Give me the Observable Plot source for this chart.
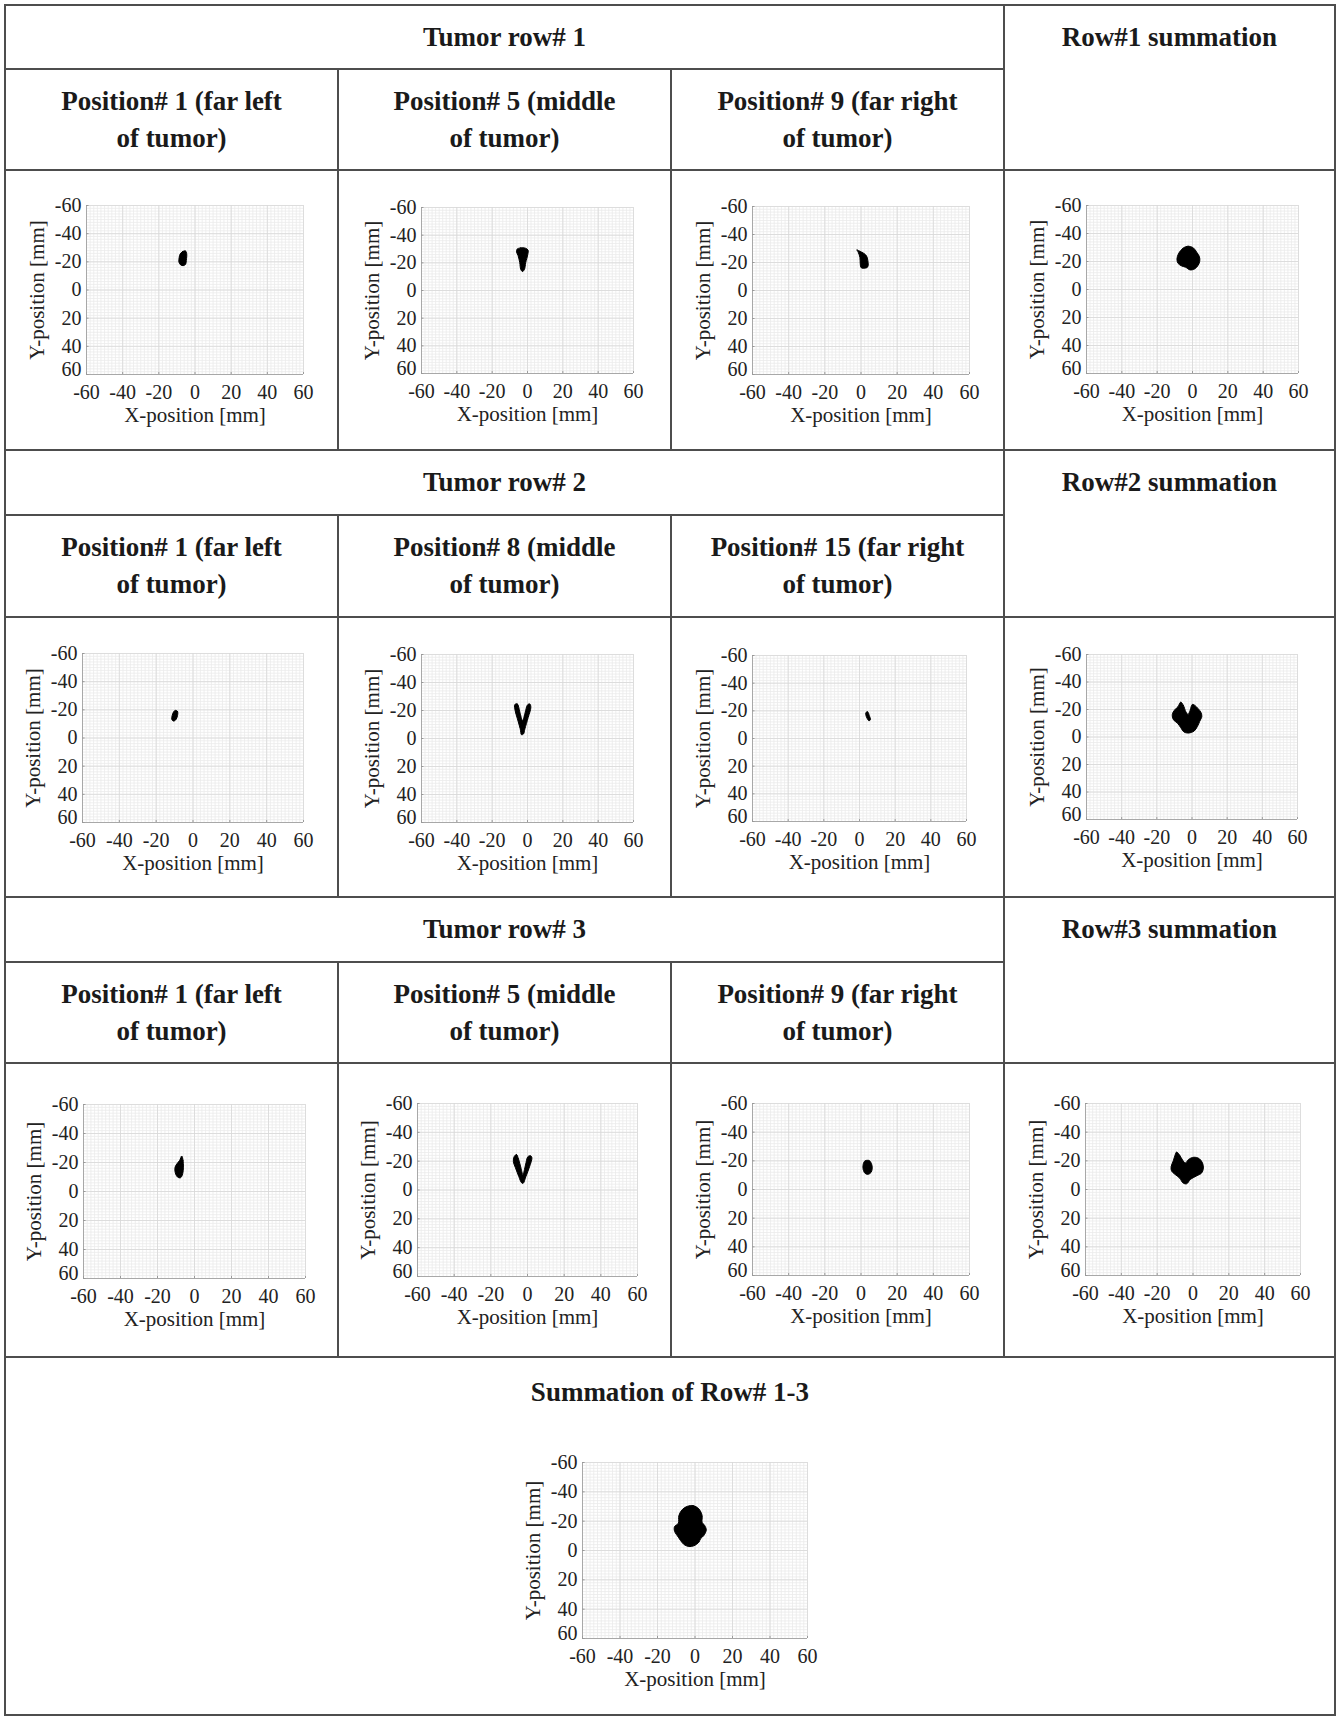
<!DOCTYPE html>
<html>
<head>
<meta charset="utf-8">
<script src="https://cdn.jsdelivr.net/npm/d3@7"></script>
<script src="https://cdn.jsdelivr.net/npm/@observablehq/plot@0.6"></script>
<style>
  html, body { margin: 0; padding: 0; background: #fff; }
  #figure {
    position: relative; width: 1338px; height: 1718px; overflow: hidden;
    font-family: "Liberation Serif", "Times New Roman", serif; color: #1a1a1a;
  }
  .rule { position: absolute; background: #4d4d4d; }
  .cell {
    position: absolute; display: flex; align-items: center; justify-content: center;
    text-align: center; font-weight: bold; font-size: 27px; line-height: 37px;
  }
  .panel { position: absolute; }
</style>
</head>
<body>
<div id="figure"></div>
<script>
// ---- Header texts ----
const blockTitles = ["Tumor row# 1", "Tumor row# 2", "Tumor row# 3"];
const summationTitles = ["Row#1 summation", "Row#2 summation", "Row#3 summation"];
const positionTitles = [
  [["Position# 1 (far left", "of tumor)"], ["Position# 5 (middle", "of tumor)"], ["Position# 9 (far right", "of tumor)"]],
  [["Position# 1 (far left", "of tumor)"], ["Position# 8 (middle", "of tumor)"], ["Position# 15 (far right", "of tumor)"]],
  [["Position# 1 (far left", "of tumor)"], ["Position# 5 (middle", "of tumor)"], ["Position# 9 (far right", "of tumor)"]]
];
const totalTitle = "Summation of Row# 1-3";

// ---- Axis ticks (mm) ----
const axisTicks = [-60, -40, -20, 0, 20, 40, 60];
const xLabel = "X-position [mm]";
const yLabel = "Y-position [mm]";

// ---- Tumor cross-section outlines, [x mm, y mm] ----
const row1Pos1 = [[-8.3,-25.3],[-7.0,-27.2],[-5.2,-27.7],[-4.6,-25.8],[-4.8,-21.1],[-5.2,-18.2],[-6.5,-17.3],[-7.9,-17.8],[-8.9,-19.9],[-8.7,-23.4]];
const row1Pos5 = [[-5.9,-29.9],[-4.0,-30.8],[-1.2,-30.6],[0.3,-29.2],[0.2,-26.3],[-1.0,-20.2],[-1.7,-15.4],[-2.8,-13.7],[-3.8,-15.2],[-4.4,-20.2],[-5.3,-25.1],[-6.2,-27.9]];
const row1Pos9 = [[-2.3,-29.1],[-1.0,-28.2],[1.6,-26.5],[3.0,-24.8],[3.8,-21.3],[3.8,-17.0],[2.5,-16.0],[0.1,-16.3],[-0.4,-18.9],[-0.6,-23.6],[-1.5,-27.2]];
const row1Sum = [[-5.2,-29.7],[-2.5,-30.9],[0.5,-29.7],[2.4,-26.6],[3.9,-23.5],[4.1,-20.2],[3.1,-17.1],[1.2,-14.7],[-1.4,-14.0],[-3.9,-15.9],[-6.1,-16.8],[-8.2,-18.7],[-8.8,-21.8],[-8.0,-25.4],[-6.7,-27.8]];

const row2Pos1 = [[-9.7,-19.6],[-8.4,-18.9],[-8.4,-16.0],[-9.3,-13.0],[-10.6,-12.0],[-11.5,-13.2],[-11.3,-16.0],[-10.6,-18.4]];
const row2Pos8 = [[-7.2,-24.2],[-5.7,-24.7],[-4.3,-18.7],[-2.8,-12.8],[-1.3,-18.7],[0.0,-24.0],[1.3,-24.7],[1.9,-22.3],[0.4,-15.1],[-1.5,-6.8],[-2.3,-3.2],[-3.4,-2.7],[-4.1,-6.8],[-5.7,-14.0],[-7.0,-19.9]];
const row2Pos15 = [[3.6,-18.8],[4.6,-19.3],[5.5,-16.6],[6.1,-13.5],[5.3,-12.8],[4.4,-14.2],[3.5,-17.3]];
const row2Sum = [[-6.4,-25.4],[-4.9,-23.0],[-3.4,-18.1],[-2.2,-16.4],[-1.1,-19.3],[0.2,-23.7],[1.6,-23.0],[3.5,-20.6],[5.0,-18.1],[5.6,-15.0],[4.4,-11.4],[3.1,-7.7],[1.2,-4.3],[-1.7,-2.9],[-4.5,-3.6],[-6.4,-6.8],[-8.3,-10.1],[-10.6,-12.6],[-11.2,-16.4],[-9.8,-19.8],[-7.9,-22.2]];

const row3Pos1 = [[-6.9,-24.5],[-6.2,-21.5],[-6.0,-16.8],[-6.4,-12.2],[-7.5,-9.5],[-9.1,-9.9],[-10.4,-12.9],[-10.5,-16.8],[-9.5,-19.1],[-8.0,-21.5]];
const row3Pos5 = [[-7.3,-23.1],[-6.0,-24.7],[-4.9,-21.5],[-3.5,-15.0],[-2.5,-10.8],[-1.1,-17.3],[0.2,-23.1],[1.7,-23.8],[2.4,-22.4],[1.1,-16.1],[-0.9,-9.2],[-2.4,-4.6],[-3.3,-5.1],[-4.7,-9.2],[-6.6,-15.5],[-7.7,-19.6]];
const row3Pos9 = [[2.2,-20.0],[4.5,-20.2],[5.8,-18.0],[6.2,-15.0],[5.6,-12.0],[4.0,-10.6],[2.3,-11.2],[1.2,-14.0],[1.2,-17.5]];
const row3Sum = [[-9.2,-26.1],[-7.5,-24.0],[-5.8,-20.5],[-4.3,-18.5],[-2.5,-21.0],[0.5,-22.5],[3.5,-21.5],[5.3,-18.5],[5.8,-15.0],[4.8,-11.5],[2.0,-9.5],[-1.5,-7.0],[-3.5,-4.0],[-5.5,-4.5],[-7.5,-8.0],[-10.0,-10.5],[-12.0,-13.0],[-12.2,-16.0],[-11.0,-20.0],[-10.0,-24.0]];

const totalSum = [[-4.1,-30.1],[-1.0,-30.6],[2.1,-28.3],[3.8,-23.8],[3.8,-19.2],[5.2,-17.0],[6.0,-14.0],[4.7,-10.2],[2.9,-7.9],[2.1,-5.7],[-0.6,-3.2],[-3.3,-2.7],[-5.9,-4.1],[-7.7,-6.8],[-8.9,-9.1],[-10.9,-13.1],[-10.9,-16.3],[-8.9,-18.6],[-8.6,-23.8],[-6.8,-27.9]];

// ---- Page layout (px) ----
const colX = [5, 338, 671, 1004, 1335];
const blocks = [
  {top: 5, mid: 69, head: 170, bottom: 450},
  {top: 450, mid: 515, head: 617, bottom: 897},
  {top: 897, mid: 962, head: 1063, bottom: 1357}
];
const figBottom = 1715;

// plot-area boxes [left, top, width, height] for each panel
const panelBoxes = [
  [[86, 205, 217, 169], [421, 207, 212, 166], [752, 206, 217, 168], [1086, 205, 212, 168]],
  [[82, 653, 221, 169], [421, 654, 212, 168], [752, 655, 214, 166], [1086, 654, 211, 165]],
  [[83, 1104, 222, 174], [417, 1103, 220, 173], [752, 1103, 217, 172], [1085, 1103, 215, 172]]
];
const totalBox = [582, 1462, 225, 176];

const panelShapes = [
  [row1Pos1, row1Pos5, row1Pos9, row1Sum],
  [row2Pos1, row2Pos8, row2Pos15, row2Sum],
  [row3Pos1, row3Pos5, row3Pos9, row3Sum]
];

const fig = document.getElementById("figure");
const LINE = 2;

function hRule(y, x1, x2) {
  const d = document.createElement("div");
  d.className = "rule";
  Object.assign(d.style, {left: (x1 - LINE / 2) + "px", top: (y - LINE / 2) + "px", width: (x2 - x1 + LINE) + "px", height: LINE + "px"});
  fig.appendChild(d);
}
function vRule(x, y1, y2) {
  const d = document.createElement("div");
  d.className = "rule";
  Object.assign(d.style, {left: (x - LINE / 2) + "px", top: (y1 - LINE / 2) + "px", width: LINE + "px", height: (y2 - y1 + LINE) + "px"});
  fig.appendChild(d);
}
function cell(x1, x2, y1, y2, lines) {
  const d = document.createElement("div");
  d.className = "cell";
  Object.assign(d.style, {left: x1 + "px", top: y1 + "px", width: (x2 - x1) + "px", height: (y2 - y1) + "px"});
  d.innerHTML = lines.join("<br>");
  fig.appendChild(d);
}

// Table grid
hRule(blocks[0].top, colX[0], colX[4]);
blocks.forEach(b => {
  hRule(b.mid, colX[0], colX[3]);
  hRule(b.head, colX[0], colX[4]);
  hRule(b.bottom, colX[0], colX[4]);
  vRule(colX[1], b.mid, b.bottom);
  vRule(colX[2], b.mid, b.bottom);
});
hRule(figBottom, colX[0], colX[4]);
vRule(colX[0], blocks[0].top, figBottom);
vRule(colX[4], blocks[0].top, figBottom);
vRule(colX[3], blocks[0].top, blocks[2].bottom);

// Header texts
blocks.forEach((b, r) => {
  cell(colX[0], colX[3], b.top, b.mid, [blockTitles[r]]);
  cell(colX[3], colX[4], b.top, b.mid, [summationTitles[r]]);
  for (let c = 0; c < 3; c++) cell(colX[c], colX[c + 1], b.mid, b.head, positionTitles[r][c]);
});
cell(colX[0], colX[4], 1357, 1427, [totalTitle]);

// Panel drawing
const M = {left: 64, right: 24, top: 16, bottom: 60};
const minorGrid = d3.range(-60, 60.1, 2);
const fmt = d => String(d);
const lastTick = axisTicks.slice(-1);
const innerTicks = axisTicks.slice(0, -1);

function tumorPanel(shape, box) {
  const [left, top, w, h] = box;
  const pts = shape.map(([x, y]) => ({x, y}));
  const svg = Plot.plot({
    width: w + M.left + M.right,
    height: h + M.top + M.bottom,
    marginLeft: M.left, marginRight: M.right, marginTop: M.top, marginBottom: M.bottom,
    style: {
      fontFamily: "'Liberation Serif', 'Times New Roman', serif",
      fontSize: "20px", color: "#222", background: "transparent", overflow: "visible"
    },
    x: {domain: [-60, 60], label: null},
    y: {domain: [-60, 60], reverse: true, label: null},
    marks: [
      Plot.gridX(minorGrid, {stroke: "#ebebeb", strokeOpacity: 1, strokeWidth: 0.8}),
      Plot.gridY(minorGrid, {stroke: "#ebebeb", strokeOpacity: 1, strokeWidth: 0.8}),
      Plot.gridX(axisTicks, {stroke: "#d8d8d8", strokeOpacity: 1, strokeWidth: 0.8}),
      Plot.gridY(axisTicks, {stroke: "#d8d8d8", strokeOpacity: 1, strokeWidth: 0.8}),
      Plot.line(pts, {x: "x", y: "y", fill: "black", stroke: "black", strokeWidth: 1, curve: "catmull-rom-closed"}),
      Plot.ruleX([-60], {stroke: "#a8a8a8", strokeWidth: 1}),
      Plot.ruleY([60], {stroke: "#a8a8a8", strokeWidth: 1}),
      Plot.ruleX(axisTicks, {y1: 60, y2: 58.6, stroke: "#9a9a9a"}),
      Plot.ruleY(axisTicks, {x1: -60, x2: -58.6, stroke: "#9a9a9a"}),
      Plot.axisX(axisTicks, {anchor: "bottom", tickSize: 0, tickPadding: 10, tickFormat: fmt, label: null, fill: "#222"}),
      Plot.axisY(innerTicks, {anchor: "left", tickSize: 0, tickPadding: 5, tickFormat: fmt, label: null, fill: "#222"}),
      // bottom y label lifted slightly so it sits clear of the x labels in the corner
      Plot.axisY(lastTick, {anchor: "left", tickSize: 0, tickPadding: 5, dy: -4.5, tickFormat: fmt, label: null, fill: "#222"}),
      Plot.text([xLabel], {text: d => d, frameAnchor: "bottom", dy: 41, fontSize: 21, textAnchor: "middle", lineAnchor: "middle", fill: "#222"}),
      Plot.text([yLabel], {text: d => d, frameAnchor: "left", dx: -49, rotate: -90, fontSize: 21, textAnchor: "middle", lineAnchor: "middle", fill: "#222"})
    ]
  });
  svg.classList.add("panel");
  svg.style.left = (left - M.left) + "px";
  svg.style.top = (top - M.top) + "px";
  fig.appendChild(svg);
}

panelShapes.forEach((row, r) => row.forEach((shape, c) => tumorPanel(shape, panelBoxes[r][c])));
tumorPanel(totalSum, totalBox);
</script>
</body>
</html>
